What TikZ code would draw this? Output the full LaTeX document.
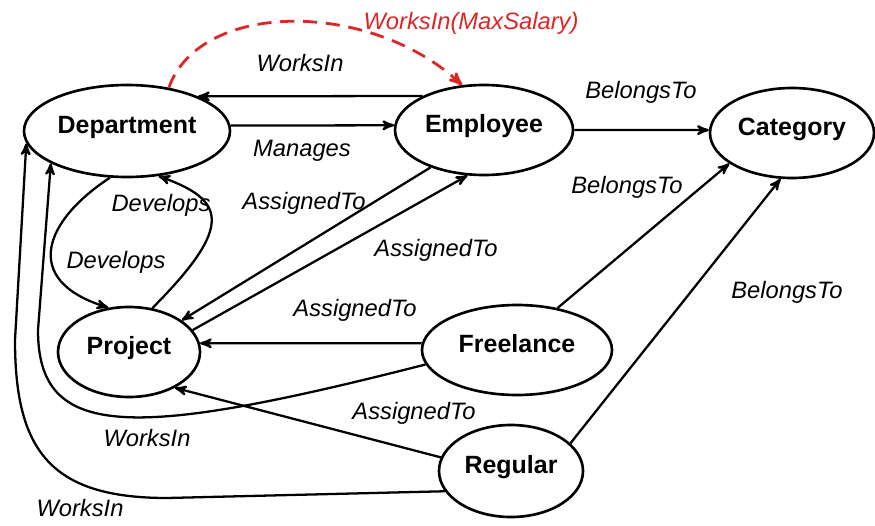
\documentclass[tikz,border=0pt]{standalone}
\usepackage{fontspec}
\setmainfont{Liberation Sans}
\usetikzlibrary{arrows,shapes}
\definecolor{salred}{RGB}{222,38,38}
\tikzset{entity/.style={
            draw,
            ellipse,
            line width=1.5pt,
            inner sep=0pt,
            text depth=7pt,
            font=\fontsize{14.2}{16}\selectfont\bfseries
        },
        link/.style={
            ->,
            >=stealth',
            line width=1.3pt
        },
        redlink/.style={
            link,
            salred,
            line width=1.6pt,
            dash pattern=on 8pt off 5pt
        },
        lbl/.style={
            font=\fontsize{13.5}{16}\selectfont\itshape,
            inner sep=1pt
        }
    }

\begin{document}
\begin{tikzpicture}[line join=round]
\useasboundingbox (0,0) rectangle (17.5,10.5);
\node[entity,minimum width=4.12cm,minimum height=1.84cm] (dept) at (2.54,7.88) {Department};
\node[entity,minimum width=3.56cm,minimum height=1.80cm] (emp) at (9.68,7.90) {Employee};
\node[entity,minimum width=3.28cm,minimum height=1.80cm] (cat) at (15.84,7.84) {Category};
\node[entity,minimum width=2.84cm,minimum height=1.80cm] (proj) at (2.58,3.46) {Project};
\node[entity,minimum width=3.80cm,minimum height=1.80cm] (free) at (10.34,3.50) {Freelance};
\node[entity,minimum width=2.88cm,minimum height=1.84cm] (reg) at (10.22,1.08) {Regular};
% top row
\draw[link] (emp.151) -- (dept.26);
\draw[link] (dept.3) -- (emp.177);
\draw[link] (emp.east) -- (cat.178);
\draw[redlink] (dept.46) .. controls (4.0,10.5) and (7.4,10.5) .. (emp.116);
% department and project
\draw[link] (dept.250) .. controls (0.9,6.1) and (0.4,4.9) .. (proj.115);
\draw[link] (proj.62) .. controls (4.7,6.0) and (4.5,6.5) .. (dept.305);
\draw[link] (emp.215) -- (proj.31);
\draw[link] (proj.19) -- (emp.250);
\draw[link] (free.176) -- (proj.7);
\draw[link] (reg.169) -- (proj.322);
% to category
\draw[link] (free.46) -- (cat.206);
\draw[link] (reg.25) -- (cat.256);
% round the left side
\draw[link] (free.189) .. controls (2.6,1.7) and (0.76,1.7) .. (0.76,3.9) -- (dept.203);
\draw[link] (reg.197) -- (3.34,0.54) .. controls (1.0,0.54) and (0.3,1.5) .. (0.3,3.7) -- (dept.187);
% labels
\node[lbl,text=salred] (lmax) at (9.42,10.04) {WorksIn(MaxSalary)};
\node[lbl] (lworkstop) at (6.0,9.24) {WorksIn};
\node[lbl] (lmanages) at (6.04,7.48) {Manages};
\node[lbl] (lbelongtop) at (12.82,8.66) {BelongsTo};
\node[lbl] (lbelongmid) at (12.54,6.76) {BelongsTo};
\node[lbl] (lbelongreg) at (15.74,4.66) {BelongsTo};
\node[lbl] (ldevup) at (3.22,6.40) {Develops};
\node[lbl] (ldevdown) at (2.32,5.26) {Develops};
\node[lbl] (lassemp) at (6.08,6.44) {AssignedTo};
\node[lbl] (lassproj) at (8.72,5.50) {AssignedTo};
\node[lbl] (lassfree) at (7.10,4.30) {AssignedTo};
\node[lbl] (lassreg) at (8.28,2.24) {AssignedTo};
\node[lbl] (lworksfree) at (2.94,1.74) {WorksIn};
\node[lbl] (lworksreg) at (1.60,0.34) {WorksIn};
\end{tikzpicture}
\end{document}
